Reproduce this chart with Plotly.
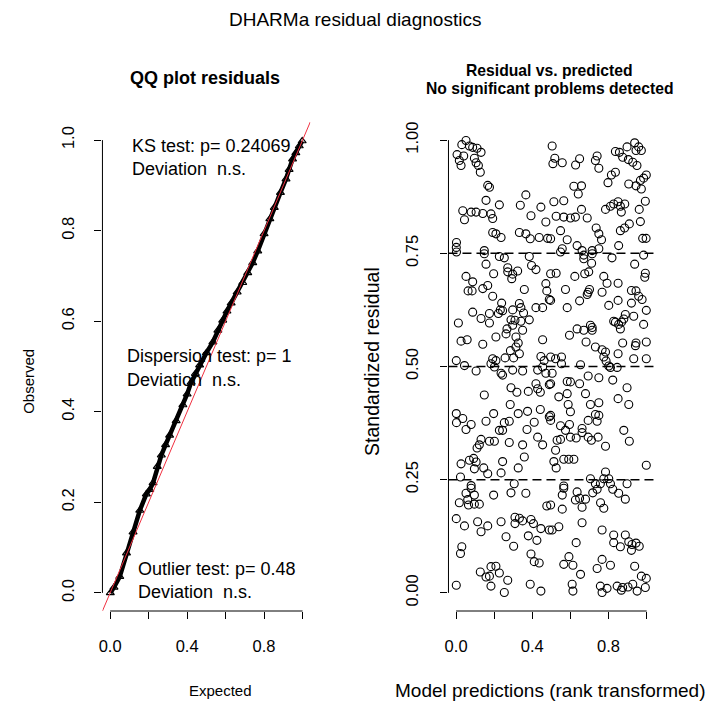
import plotly.graph_objects as go

# ---------------- data ----------------
qq_expected = [0.001, 0.02, 0.05, 0.085, 0.119, 0.154, 0.188, 0.206, 0.223, 0.245,
               0.266, 0.288, 0.309, 0.343, 0.378, 0.400, 0.421, 0.443, 0.465, 0.50,
               0.534, 0.56, 0.585, 0.607, 0.629, 0.66, 0.689, 0.715, 0.741, 0.767,
               0.80, 0.83, 0.853, 0.885, 0.914, 0.93, 0.948, 0.965, 0.983, 0.998]
qq_observed = [0.0, 0.012, 0.036, 0.088, 0.134, 0.182, 0.218, 0.228, 0.243, 0.279,
               0.304, 0.327, 0.348, 0.380, 0.415, 0.439, 0.465, 0.484, 0.503, 0.530,
               0.554, 0.580, 0.602, 0.622, 0.640, 0.664, 0.685, 0.707, 0.729, 0.755,
               0.793, 0.826, 0.851, 0.884, 0.914, 0.935, 0.958, 0.972, 0.987, 0.998]

pred_x = [
    # top-left
    0.052, 0.030, 0.070, 0.087, 0.110, 0.131, 0.005, 0.040, 0.017, 0.026, 0.096, 0.105, 0.117, 0.127,
    0.166, 0.175, 0.366, 0.157, 0.227, 0.337, 0.445, 0.035, 0.079, 0.105, 0.140, 0.183, 0.192, 0.044,
    0.393, 0.471, 0.192, 0.209, 0.236, 0.332, 0.366, 0.389, 0.436, 0.480, 0.002, 0.001, 0.148,
    # top-right
    0.504, 0.518, 0.508, 0.557, 0.627, 0.648, 0.740, 0.731, 0.749, 0.836, 0.857, 0.874, 0.897, 0.937,
    0.958, 0.944, 0.972, 0.904, 0.927, 0.949, 0.815, 0.836, 0.797, 0.618, 0.658, 0.641, 0.906, 0.944,
    0.967, 0.984, 0.998, 0.972, 0.513, 0.565, 0.784, 0.810, 0.827, 0.850, 0.885, 0.862, 0.867, 0.993,
    0.961, 0.525, 0.565, 0.600, 0.626, 0.658, 0.688, 0.548, 0.735, 0.749, 0.763, 0.862, 0.884, 0.909,
    0.967, 0.979, 0.997, 0.496, 0.583, 0.635, 0.557, 0.853, 0.661, 0.714, 0.749,
    # upper-mid left
    0.002, 0.148, 0.227, 0.253, 0.384, 0.157, 0.271, 0.271, 0.297, 0.323, 0.292, 0.197, 0.396, 0.419,
    0.052, 0.087, 0.063, 0.084, 0.140, 0.166, 0.192, 0.358, 0.471, 0.476, 0.489, 0.239, 0.332, 0.340,
    0.297, 0.354, 0.419, 0.454, 0.087, 0.232, 0.244, 0.222, 0.175, 0.131, 0.175, 0.012, 0.288, 0.309,
    0.297, 0.340, 0.384, 0.349, 0.267, 0.262, 0.209, 0.314, 0.326, 0.314, 0.026, 0.058, 0.140, 0.454,
    0.285, 0.257, 0.302, 0.332, 0.001, 0.044, 0.192, 0.209, 0.183, 0.201, 0.445, 0.462, 0.454,
    # upper-mid right
    0.548, 0.670, 0.670, 0.714, 0.711, 0.818, 0.984, 0.937, 0.496, 0.525, 0.623, 0.675, 0.696, 0.775,
    0.792, 0.850, 0.993, 0.990, 0.574, 0.693, 0.700, 0.688, 0.766, 0.920, 0.944, 0.958, 0.976, 0.496,
    0.648, 0.850, 0.920, 0.583, 0.801, 0.998, 0.888, 0.932, 0.827, 0.836, 0.880, 0.868, 0.853, 0.984,
    0.862, 0.705, 0.714, 0.714, 0.635, 0.670, 0.595, 0.682, 0.731, 0.766, 0.784, 0.850, 0.874, 0.941,
    0.944, 0.998, 0.932, 0.998, 0.496, 0.522, 0.553, 0.553, 0.775, 0.787, 0.801, 0.810, 0.845, 0.653,
    # lower-mid left
    0.105, 0.236, 0.244, 0.297, 0.349, 0.428, 0.471, 0.148, 0.288, 0.319, 0.379, 0.419, 0.428, 0.442,
    0.489, 0.284, 0.001, 0.035, 0.002, 0.079, 0.052, 0.197, 0.157, 0.326, 0.375, 0.442, 0.489, 0.253,
    0.279, 0.410, 0.372, 0.227, 0.244, 0.428, 0.454, 0.131, 0.122, 0.110, 0.175, 0.201, 0.279, 0.349,
    0.358, 0.026, 0.070, 0.092, 0.105, 0.096, 0.145, 0.166, 0.244, 0.236, 0.326, 0.023, 0.079, 0.305,
    # lower-mid right
    0.504, 0.496, 0.583, 0.600, 0.648, 0.693, 0.749, 0.822, 0.897, 0.539, 0.583, 0.679, 0.850, 0.906,
    0.588, 0.600, 0.705, 0.749, 0.731, 0.749, 0.740, 0.693, 0.496, 0.496, 0.548, 0.595, 0.574, 0.600,
    0.630, 0.661, 0.661, 0.693, 0.710, 0.745, 0.880, 0.909, 0.530, 0.548, 0.522, 0.784, 0.513, 0.525,
    0.565, 0.591, 0.618, 0.784, 0.801, 0.775, 0.705, 0.998, 0.897, 0.565, 0.731, 0.757, 0.810,
    # bottom left
    0.079, 0.052, 0.096, 0.061, 0.017, 0.065, 0.096, 0.122, 0.197, 0.288, 0.366, 0.476, 0.001, 0.044,
    0.113, 0.166, 0.131, 0.236, 0.309, 0.332, 0.309, 0.349, 0.393, 0.406, 0.445, 0.489, 0.262, 0.302,
    0.379, 0.424, 0.030, 0.023, 0.393, 0.410, 0.436, 0.183, 0.209, 0.127, 0.157, 0.175, 0.227, 0.271,
    0.001, 0.183, 0.253, 0.389, 0.445,
    # bottom right
    0.565, 0.557, 0.635, 0.626, 0.648, 0.679, 0.717, 0.740, 0.822, 0.853, 0.888, 0.758, 0.775, 0.557,
    0.661, 0.496, 0.504, 0.539, 0.661, 0.766, 0.827, 0.888, 0.827, 0.862, 0.906, 0.923, 0.944, 0.961,
    0.920, 0.630, 0.592, 0.565, 0.613, 0.653, 0.766, 0.810, 0.740, 0.937, 0.972, 0.998, 0.609, 0.613,
    0.757, 0.792, 0.766, 0.845, 0.874, 0.902, 0.867, 0.927, 0.950, 0.993,
]

resid_y = [
    # top-left
    0.999, 0.990, 0.987, 0.984, 0.982, 0.973, 0.968, 0.965, 0.955, 0.944, 0.960, 0.950, 0.944, 0.929,
    0.900, 0.896, 0.879, 0.867, 0.857, 0.856, 0.852, 0.844, 0.841, 0.841, 0.838, 0.837, 0.827, 0.824,
    0.833, 0.819, 0.796, 0.793, 0.785, 0.796, 0.793, 0.782, 0.785, 0.783, 0.774, 0.763, 0.756,
    # top-right
    0.987, 0.960, 0.948, 0.950, 0.945, 0.959, 0.965, 0.955, 0.938, 0.975, 0.973, 0.962, 0.985, 0.994,
    0.985, 0.977, 0.977, 0.957, 0.951, 0.944, 0.923, 0.929, 0.906, 0.898, 0.899, 0.881, 0.903, 0.899,
    0.911, 0.916, 0.923, 0.892, 0.864, 0.866, 0.847, 0.854, 0.859, 0.864, 0.859, 0.854, 0.841, 0.865,
    0.847, 0.832, 0.830, 0.828, 0.830, 0.847, 0.828, 0.800, 0.806, 0.793, 0.780, 0.800, 0.806, 0.815,
    0.820, 0.783, 0.783, 0.782, 0.780, 0.767, 0.760, 0.767, 0.756, 0.756, 0.760,
    # upper-mid left
    0.753, 0.749, 0.743, 0.740, 0.743, 0.726, 0.718, 0.709, 0.704, 0.711, 0.694, 0.705, 0.723, 0.714,
    0.699, 0.687, 0.667, 0.667, 0.672, 0.679, 0.655, 0.670, 0.683, 0.667, 0.648, 0.640, 0.639, 0.630,
    0.625, 0.618, 0.630, 0.630, 0.620, 0.625, 0.623, 0.617, 0.617, 0.606, 0.596, 0.596, 0.603, 0.602,
    0.591, 0.600, 0.603, 0.580, 0.583, 0.572, 0.565, 0.565, 0.552, 0.543, 0.556, 0.559, 0.549, 0.559,
    0.535, 0.519, 0.519, 0.528, 0.513, 0.502, 0.517, 0.513, 0.506, 0.499, 0.522, 0.513, 0.499,
    # upper-mid right
    0.753, 0.746, 0.738, 0.749, 0.728, 0.740, 0.746, 0.726, 0.705, 0.706, 0.699, 0.705, 0.709, 0.699,
    0.684, 0.684, 0.706, 0.697, 0.670, 0.664, 0.670, 0.659, 0.664, 0.668, 0.667, 0.655, 0.648, 0.646,
    0.645, 0.646, 0.640, 0.630, 0.635, 0.624, 0.615, 0.611, 0.600, 0.598, 0.605, 0.598, 0.593, 0.593,
    0.583, 0.591, 0.586, 0.580, 0.583, 0.580, 0.569, 0.554, 0.543, 0.537, 0.532, 0.528, 0.552, 0.546,
    0.552, 0.554, 0.517, 0.517, 0.521, 0.517, 0.521, 0.506, 0.521, 0.512, 0.501, 0.498, 0.498, 0.504,
    # lower-mid left
    0.490, 0.485, 0.481, 0.492, 0.490, 0.492, 0.485, 0.437, 0.453, 0.443, 0.445, 0.462, 0.451, 0.443,
    0.460, 0.416, 0.396, 0.385, 0.376, 0.372, 0.361, 0.396, 0.379, 0.396, 0.401, 0.405, 0.389, 0.376,
    0.379, 0.377, 0.361, 0.359, 0.359, 0.344, 0.327, 0.339, 0.327, 0.320, 0.335, 0.335, 0.332, 0.327,
    0.300, 0.285, 0.293, 0.297, 0.289, 0.274, 0.276, 0.263, 0.290, 0.265, 0.276, 0.256, 0.237, 0.241,
    # lower-mid right
    0.485, 0.462, 0.467, 0.466, 0.462, 0.479, 0.475, 0.470, 0.453, 0.433, 0.440, 0.440, 0.429, 0.416,
    0.416, 0.400, 0.416, 0.420, 0.394, 0.392, 0.379, 0.381, 0.392, 0.381, 0.369, 0.372, 0.359, 0.344,
    0.342, 0.363, 0.354, 0.344, 0.337, 0.344, 0.359, 0.335, 0.337, 0.339, 0.315, 0.324, 0.290, 0.276,
    0.295, 0.295, 0.295, 0.267, 0.252, 0.252, 0.252, 0.282, 0.241, 0.236, 0.241, 0.241, 0.241,
    # bottom left
    0.231, 0.220, 0.216, 0.206, 0.199, 0.194, 0.196, 0.196, 0.216, 0.221, 0.220, 0.192, 0.164, 0.148,
    0.157, 0.148, 0.135, 0.157, 0.167, 0.165, 0.153, 0.159, 0.162, 0.153, 0.142, 0.139, 0.124, 0.103,
    0.126, 0.116, 0.102, 0.087, 0.086, 0.069, 0.066, 0.058, 0.059, 0.046, 0.035, 0.037, 0.044, 0.028,
    0.017, 0.015, 0.001, 0.019, 0.004,
    # bottom right
    0.231, 0.216, 0.223, 0.205, 0.209, 0.207, 0.221, 0.229, 0.229, 0.220, 0.207, 0.199, 0.187, 0.185,
    0.189, 0.194, 0.139, 0.146, 0.155, 0.139, 0.128, 0.128, 0.111, 0.102, 0.113, 0.107, 0.110, 0.103,
    0.094, 0.111, 0.080, 0.063, 0.061, 0.041, 0.074, 0.061, 0.054, 0.059, 0.037, 0.032, 0.019, 0.004,
    0.015, 0.010, 0.001, 0.015, 0.012, 0.013, 0.006, 0.019, 0.004, 0.012,
]

qq_ticks = [0.0, 0.2, 0.4, 0.6, 0.8, 1.0]
qq_ytick_text = ["0.0", "0.2", "0.4", "0.6", "0.8", "1.0"]
x_tick_text = ["0.0", "", "0.4", "", "0.8", ""]
res_yticks = [0.0, 0.25, 0.5, 0.75, 1.0]
res_ytick_text = ["0.00", "0.25", "0.50", "0.75", "1.00"]
quantile_lines = [0.25, 0.5, 0.75]

# ---------------- layout helpers ----------------
W, H = 707, 702
FONT = "Liberation Sans, Arial, sans-serif"
def fx(p): return p / W
def fy(p): return 1 - p / H

AX_RANGE = [-0.04, 1.04]
left_dom = [fx(99), fx(308)]
right_dom = [fx(447), fx(654)]
y_dom = [fy(611), fy(122)]

fig = go.Figure()

fig.add_trace(go.Scatter(
    x=qq_expected, y=qq_observed, mode="lines+markers",
    line=dict(color="black", width=4.5),
    marker=dict(symbol="triangle-up-open", size=7, color="black", line=dict(width=1.2, color="black")),
    xaxis="x", yaxis="y", showlegend=False, hoverinfo="skip"))

fig.add_trace(go.Scatter(
    x=pred_x, y=resid_y, mode="markers",
    marker=dict(symbol="circle-open", size=8, color="black", line=dict(width=1.1, color="black")),
    xaxis="x2", yaxis="y2", showlegend=False, hoverinfo="skip"))

tick_common = dict(ticks="outside", ticklen=7, tickwidth=1, tickcolor="black",
                   showgrid=False, zeroline=False, showline=False,
                   tickfont=dict(family=FONT, size=16.5, color="black"))

fig.update_layout(
    width=W, height=H, margin=dict(l=0, r=0, t=0, b=0),
    paper_bgcolor="white", plot_bgcolor="white",
    xaxis=dict(domain=left_dom, range=AX_RANGE, anchor="y", tickvals=qq_ticks,
               ticktext=x_tick_text, ticklabelstandoff=13, **tick_common),
    yaxis=dict(domain=y_dom, range=AX_RANGE, anchor="x", tickvals=qq_ticks,
               ticktext=qq_ytick_text, tickangle=-90, ticklabelstandoff=14, **tick_common),
    xaxis2=dict(domain=right_dom, range=AX_RANGE, anchor="y2", tickvals=qq_ticks,
                ticktext=x_tick_text, ticklabelstandoff=13, **tick_common),
    yaxis2=dict(domain=y_dom, range=AX_RANGE, anchor="x2", tickvals=res_yticks,
                ticktext=res_ytick_text, tickangle=-90, ticklabelstandoff=16, **tick_common),
)

shapes = []
# R-style axis lines spanning first to last tick
for xa, ya, yt in (("x", "y", qq_ticks), ("x2", "y2", res_yticks)):
    shapes.append(dict(type="line", xref=xa + " domain", yref=ya, x0=0, x1=0,
                       y0=yt[0], y1=yt[-1], line=dict(color="black", width=1)))
    shapes.append(dict(type="line", xref=xa, yref=ya + " domain", x0=qq_ticks[0], x1=qq_ticks[-1],
                       y0=0, y1=0, line=dict(color="black", width=1)))
# identity line in QQ plot
shapes.append(dict(type="line", xref="x", yref="y", x0=AX_RANGE[0], y0=AX_RANGE[0],
                   x1=AX_RANGE[1], y1=AX_RANGE[1], line=dict(color="#f03040", width=1), layer="above"))
# quantile lines
for q in quantile_lines:
    shapes.append(dict(type="line", xref="x2 domain", yref="y2", x0=0, x1=1, y0=q, y1=q,
                       line=dict(color="black", width=1.5, dash="9px,5px")))
fig.update_layout(shapes=shapes)

ann = []
def text(s, x, y, size, bold=False, angle=0, xanchor="center"):
    ann.append(dict(text=("<b>%s</b>" % s) if bold else s, x=fx(x), y=fy(y), xref="paper", yref="paper",
                    showarrow=False, textangle=angle, xanchor=xanchor, yanchor="middle",
                    font=dict(family=FONT, size=size, color="black")))

text("DHARMa residual diagnostics", 353, 19, 19)
text("QQ plot residuals", 202, 78, 18, bold=True)
text("Residual vs. predicted", 549, 70, 15.7, bold=True)
text("No significant problems detected", 549, 88, 15.7, bold=True)
text("Observed", 25, 381, 15, angle=-90)
text("Expected", 218, 690, 15)
text("Standardized residual", 370, 361, 19.5, angle=-90)
text("Model predictions (rank transformed)", 549, 690, 19)

text("KS test: p= 0.24069", 127, 146, 18, xanchor="left")
text("Deviation  n.s.", 127, 169, 18, xanchor="left")
text("Dispersion test: p= 1", 122, 356, 18, xanchor="left")
text("Deviation  n.s.", 122, 380, 18, xanchor="left")
text("Outlier test: p= 0.48", 133, 569, 18, xanchor="left")
text("Deviation  n.s.", 133, 592, 18, xanchor="left")
fig.update_layout(annotations=ann)

fig.write_html("out.html")
